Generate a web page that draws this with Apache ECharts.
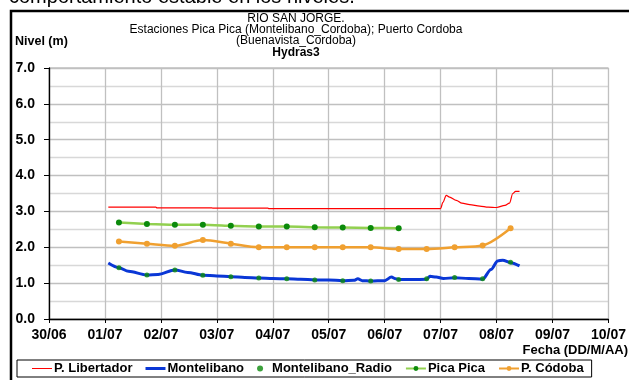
<!DOCTYPE html>
<html>
<head>
<meta charset="utf-8">
<script src="https://cdn.jsdelivr.net/npm/echarts@6/dist/echarts.min.js"></script>
<style>
  html, body { margin: 0; padding: 0; background: #fff; }
  #chart { width: 629px; height: 380px; }
</style>
</head>
<body>
<div id="chart"></div>
<script>
// Day offsets counted from 30/06 (0 = 30/06, 10 = 10/07)
const tickLabels = ['30/06', '01/07', '02/07', '03/07', '04/07', '05/07', '06/07', '07/07', '08/07', '09/07', '10/07'];

// P. Libertador (continuous record)
const libertadorDays = [1.06, 1.91, 1.93, 2.91, 2.93, 3.91, 3.93, 7.0, 7.04, 7.10, 7.16, 7.28, 7.38, 7.52, 7.70, 7.85, 8.0, 8.15, 8.23, 8.29, 8.34, 8.41];
const libertadorLevels = [3.12, 3.12, 3.10, 3.10, 3.09, 3.09, 3.08, 3.08, 3.25, 3.45, 3.40, 3.31, 3.23, 3.19, 3.15, 3.12, 3.11, 3.17, 3.23, 3.50, 3.56, 3.56];

// Montelibano (continuous record)
const montelibanoDays = [1.06, 1.25, 1.42, 1.75, 1.95, 2.25, 2.48, 2.75, 3.0, 3.25, 3.5, 3.75, 4.0, 4.25, 4.5, 4.75, 5.0, 5.25, 5.45, 5.52, 5.6, 5.75, 6.0, 6.12, 6.2, 6.25, 6.5, 6.75, 6.81, 6.92, 7.05, 7.25, 7.5, 7.75, 7.9, 8.02, 8.11, 8.25, 8.41];
const montelibanoLevels = [1.56, 1.43, 1.33, 1.23, 1.24, 1.37, 1.30, 1.22, 1.20, 1.18, 1.16, 1.14, 1.13, 1.12, 1.11, 1.09, 1.09, 1.07, 1.08, 1.12, 1.07, 1.06, 1.07, 1.17, 1.12, 1.10, 1.10, 1.11, 1.19, 1.17, 1.13, 1.15, 1.13, 1.11, 1.38, 1.62, 1.64, 1.57, 1.48];

// Readings taken twice a day
const readingDays = [1.25, 1.75, 2.25, 2.75, 3.25, 3.75, 4.25, 4.75, 5.25, 5.75, 6.25, 6.75, 7.25, 7.75, 8.25];
const montelibanoRadio = [1.43, 1.23, 1.37, 1.22, 1.18, 1.14, 1.12, 1.09, 1.07, 1.06, 1.10, 1.12, 1.16, 1.12, 1.58];
const picaPica = [2.69, 2.65, 2.63, 2.63, 2.60, 2.58, 2.58, 2.56, 2.55, 2.54, 2.53];
const pCordoba = [2.16, 2.10, 2.04, 2.20, 2.10, 2.00, 2.00, 2.00, 2.00, 2.00, 1.95, 1.95, 2.00, 2.05, 2.53];

const yTicks = [0, 1, 2, 3, 4, 5, 6, 7];

function pairs(xs, ys) {
  return ys.map((v, i) => [xs[i], v]);
}

const FONT = '"Liberation Sans", Arial, sans-serif';
const TITLE_X = 296;

const chart = echarts.init(document.getElementById('chart'), null, { renderer: 'canvas' });

chart.setOption({
  animation: false,
  backgroundColor: '#ffffff',
  grid: {
    left: 49, right: 20, top: 68, bottom: 61,
    show: true, borderColor: '#a0a0a0', borderWidth: 1, backgroundColor: 'transparent'
  },
  xAxis: {
    type: 'value', min: 0, max: tickLabels.length - 1, interval: 1,
    axisLine: { show: true, onZero: false, lineStyle: { color: '#000', width: 1.3 } },
    axisTick: { show: true, length: 4, lineStyle: { color: '#000' } },
    axisLabel: {
      margin: 9, color: '#000', fontFamily: FONT, fontWeight: 'bold', fontSize: 14,
      formatter: v => tickLabels[Math.round(v)]
    },
    splitLine: { show: true, lineStyle: { color: '#c0c0c0', width: 1.3 } }
  },
  yAxis: {
    type: 'value', min: yTicks[0], max: yTicks[yTicks.length - 1], interval: 1,
    axisLine: { show: true, lineStyle: { color: '#000', width: 1.3 } },
    axisTick: { show: true, length: 5, lineStyle: { color: '#000' } },
    axisLabel: {
      margin: 14, color: '#000', fontFamily: FONT, fontWeight: 'bold', fontSize: 14,
      formatter: v => v.toFixed(1)
    },
    splitLine: { show: true, lineStyle: { color: '#c0c0c0', width: 1.3 } },
    minorTick: { show: false, splitNumber: 2 },
    minorSplitLine: { show: true, lineStyle: { color: '#d8d8d8', width: 1.3 } }
  },
  legend: {
    left: 17, top: 360,
    padding: [2, 8, 2, 15],
    itemGap: 13, itemWidth: 20, itemHeight: 6,
    borderColor: '#000', borderWidth: 1,
    textStyle: { color: '#000', fontFamily: FONT, fontWeight: 'bold', fontSize: 13, padding: [0, 0, 0, -3] },
    data: [
      { name: 'P. Libertador', icon: 'path://M0,0h20v1h-20z', itemStyle: { color: '#ff0000' } },
      { name: 'Montelibano', icon: 'path://M0,0h20v3h-20z', itemStyle: { color: '#0a37d6' } },
      'Montelibano_Radio', 'Pica Pica', 'P. Códoba'
    ]
  },
  graphic: [
    { type: 'rect', silent: true, shape: { x: 11, y: 11, width: 700, height: 500 },
      style: { fill: 'none', stroke: '#000', lineWidth: 2.5 } },
    { type: 'text', x: 9, y: -3, style: { text: 'comportamiento estable en los niveles.', font: '20px ' + FONT, fill: '#000', verticalAlign: 'middle' } },
    { type: 'text', x: TITLE_X, y: 18.5, style: { text: 'RIO SAN JORGE.', font: '12px ' + FONT, fill: '#000', align: 'center', verticalAlign: 'middle' } },
    { type: 'text', x: TITLE_X, y: 29.7, style: { text: 'Estaciones Pica Pica (Montelibano_Cordoba); Puerto Cordoba', font: '12px ' + FONT, fill: '#000', align: 'center', verticalAlign: 'middle' } },
    { type: 'text', x: TITLE_X, y: 40.9, style: { text: '(Buenavista_Cordoba)', font: '12px ' + FONT, fill: '#000', align: 'center', verticalAlign: 'middle' } },
    { type: 'text', x: TITLE_X, y: 52.3, style: { text: 'Hydras3', font: 'bold 12px ' + FONT, fill: '#000', align: 'center', verticalAlign: 'middle' } },
    { type: 'text', x: 15, y: 42, style: { text: 'Nivel (m)', font: 'bold 12.5px ' + FONT, fill: '#000', verticalAlign: 'middle' } },
    { type: 'text', x: 628, y: 350, style: { text: 'Fecha (DD/M/AA)', font: 'bold 13px ' + FONT, fill: '#000', align: 'right', verticalAlign: 'middle' } }
  ],
  series: [
    {
      name: 'P. Libertador', type: 'line', data: pairs(libertadorDays, libertadorLevels),
      showSymbol: false, symbol: 'none', smooth: 0.3, smoothMonotone: 'x',
      lineStyle: { color: '#ff0000', width: 1.2 }, itemStyle: { color: '#ff0000' }, z: 3
    },
    {
      name: 'Montelibano', type: 'line', data: pairs(montelibanoDays, montelibanoLevels),
      showSymbol: false, symbol: 'none', smooth: 0.3, smoothMonotone: 'x',
      lineStyle: { color: '#0a37d6', width: 3 }, itemStyle: { color: '#0a37d6' }, z: 3
    },
    {
      name: 'Montelibano_Radio', type: 'scatter', data: pairs(readingDays, montelibanoRadio),
      symbol: 'circle', symbolSize: 5, itemStyle: { color: '#0b8a0b' }, z: 5
    },
    {
      name: 'Pica Pica', type: 'line', data: pairs(readingDays, picaPica),
      symbol: 'circle', symbolSize: 6, showSymbol: true, smooth: 0.2,
      lineStyle: { color: '#92d050', width: 2.5 }, itemStyle: { color: '#0b8a0b' }, z: 4
    },
    {
      name: 'P. Códoba', type: 'line', data: pairs(readingDays, pCordoba),
      symbol: 'circle', symbolSize: 6, showSymbol: true, smooth: 0.3,
      lineStyle: { color: '#f0a030', width: 2.5 }, itemStyle: { color: '#f0a030' }, z: 4
    }
  ]
});
</script>
</body>
</html>
